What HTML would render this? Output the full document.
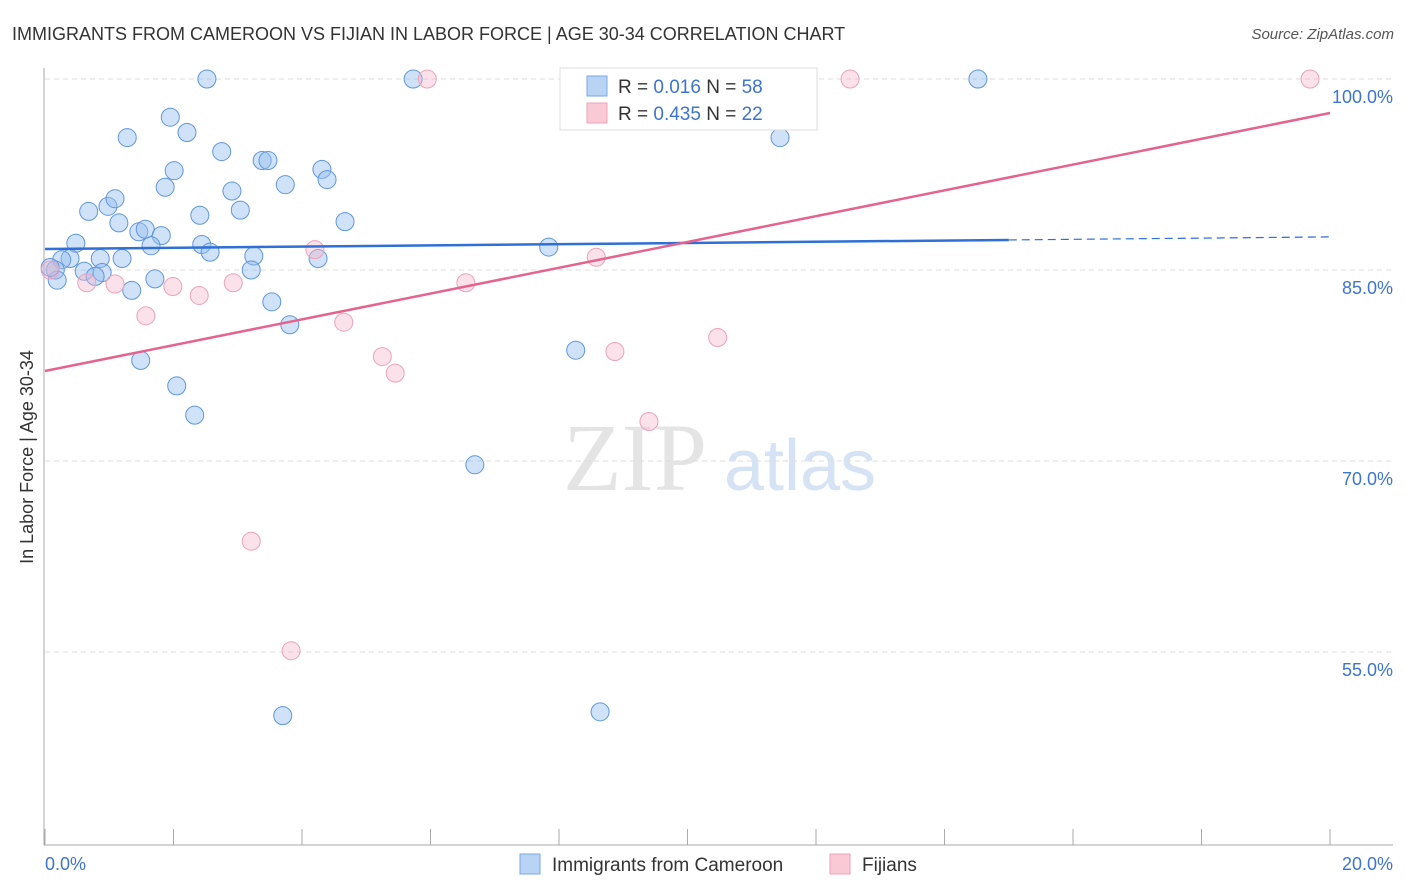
<!DOCTYPE html>
<html><head><meta charset="utf-8"><style>
body{margin:0;background:#fff;font-family:"Liberation Sans",sans-serif}
svg{display:block}
</style></head><body>
<svg id="chart" width="1406" height="892" xmlns="http://www.w3.org/2000/svg" font-family="Liberation Sans, sans-serif">
<text x="12" y="40" font-size="18" fill="#333">IMMIGRANTS FROM CAMEROON VS FIJIAN IN LABOR FORCE | AGE 30-34 CORRELATION CHART</text>
<text x="1394" y="39" font-size="15" fill="#555" text-anchor="end" font-style="italic">Source: ZipAtlas.com</text>
<text transform="translate(33,457) rotate(-90)" font-size="18" fill="#333" text-anchor="middle">In Labor Force | Age 30-34</text>
<g><text x="635" y="490" font-size="96" fill="#e4e4e4" text-anchor="middle" font-family="Liberation Serif, serif">ZIP</text><text x="800" y="490" font-size="72" fill="#d5e3f5" text-anchor="middle">atlas</text></g>
<g id="grid"></g>
<line x1="44" y1="68" x2="44" y2="845" stroke="#aaa"/>
<line x1="44" y1="845" x2="1393" y2="845" stroke="#aaa"/>
<g id="xt"></g>
<g id="pts"></g>
<g id="trend"></g>
<g>
<rect x="560" y="68" width="257" height="62" fill="#fff" stroke="#ddd"/>
<rect x="587" y="76" width="20" height="20" fill="#b8d3f4" stroke="#7aa8e6"/>
<rect x="587" y="103" width="20" height="20" fill="#f9c9d6" stroke="#eea3bb"/>
<text x="618" y="93" font-size="19" fill="#333">R = <tspan fill="#3d74d0">0.016</tspan>   N = <tspan fill="#3d74d0">58</tspan></text>
<text x="618" y="120" font-size="19" fill="#333">R = <tspan fill="#3d74d0">0.435</tspan>   N = <tspan fill="#3d74d0">22</tspan></text>
</g>
<g>
<rect x="520" y="854" width="20" height="20" fill="#b8d3f4" stroke="#7aa8e6"/>
<text x="552" y="871" font-size="19" fill="#333">Immigrants from Cameroon</text>
<rect x="830" y="854" width="20" height="20" fill="#f9c9d6" stroke="#eea3bb"/>
<text x="862" y="871" font-size="19" fill="#333">Fijians</text>
</g>
<text x="45" y="870" font-size="18" fill="#3d74d0">0.0%</text>
<text x="1393" y="870" font-size="18" fill="#3d74d0" text-anchor="end">20.0%</text>
</svg>
<script>
const yTicks=[100,85,70,55];
const xTickVals=[0,2,4,6,8,10,12,14,16,18,20];
const blueX=[2.52,5.73,8.95,14.52,1.28,1.95,2.21,2.75,2.01,1.87,2.91,3.38,3.47,3.74,4.31,4.39,3.04,2.41,0.68,0.98,1.09,1.15,1.46,1.56,1.81,0.48,1.65,2.44,2.57,4.67,7.84,3.25,4.25,1.20,0.86,0.39,0.26,0.16,0.19,0.61,0.89,0.78,3.21,1.71,1.35,3.53,3.81,1.49,2.05,2.33,8.26,6.69,3.70,8.64,11.44,0.08];
const blueY=[100,100,100,100,95.4,97.0,95.8,94.3,92.8,91.5,91.2,93.6,93.6,91.7,92.9,92.1,89.7,89.3,89.6,90.0,90.6,88.7,88.0,88.2,87.7,87.1,86.9,87.0,86.4,88.8,86.8,86.1,85.9,85.9,85.9,85.9,85.8,85.0,84.2,84.9,84.8,84.5,85.0,84.3,83.4,82.5,80.7,77.9,75.9,73.6,78.7,69.7,50.0,50.3,95.4,85.2];
const pinkX=[5.95,10.94,12.53,19.69,4.20,8.58,6.55,0.65,1.09,1.99,2.40,2.93,1.57,4.65,5.25,5.45,8.87,10.47,9.40,3.21,3.83,0.08];
const pinkY=[100,100,100,100,86.6,86.0,84.0,84.0,83.9,83.7,83.0,84.0,81.4,80.9,78.2,76.9,78.6,79.7,73.1,63.7,55.1,85.0];
const blueTrend=[86.65,87.36,87.6];
const pinkTrend=[77.07,97.33];
const NS="http://www.w3.org/2000/svg";
const X=v=>45+v*64.25, Y=v=>79+(100-v)*12.733;
function mk(t,a,p){const e=document.createElementNS(NS,t);for(const k in a)e.setAttribute(k,a[k]);p.appendChild(e);return e;}
const grid=document.getElementById('grid');
yTicks.forEach(t=>{
 const l=mk('line',{x1:45,x2:1393,y1:Y(t),y2:Y(t),stroke:'#ddd','stroke-dasharray':'5,4'},grid);
 
 
 const tx=mk('text',{x:1393,y:Y(t)+24,'font-size':18,fill:'#3d74d0','text-anchor':'end'},grid);
 tx.textContent=t.toFixed(1)+'%';
 
 
});
const xt=document.getElementById('xt');
xTickVals.forEach(v=>{
 const l=mk('line',{x1:X(v),x2:X(v),y1:829,y2:845,stroke:'#aaa'},xt);
 
 
});
const pts=document.getElementById('pts');
blueX.forEach((v,i)=>{
 const c=mk('circle',{cx:X(v),cy:Y(blueY[i]),r:9,fill:'rgba(150,190,238,0.45)',stroke:'#5f96e0','stroke-width':1},pts);
 
 
});
pinkX.forEach((v,i)=>{
 const c=mk('circle',{cx:X(v),cy:Y(pinkY[i]),r:9,fill:'rgba(246,180,200,0.4)',stroke:'#eca3ba','stroke-width':1},pts);
 
 
});
const tr=document.getElementById('trend');
let l1=mk('line',{x1:X(0),y1:Y(blueTrend[0]),x2:X(15),y2:Y(blueTrend[1]),stroke:'#2f6fd6','stroke-width':2.5},tr);


let l2=mk('line',{x1:X(15),y1:Y(blueTrend[1]),x2:X(20),y2:Y(blueTrend[2]),stroke:'#2f6fd6','stroke-width':1.2,'stroke-dasharray':'8,5'},tr);


let l3=mk('line',{x1:X(0),y1:Y(pinkTrend[0]),x2:X(20),y2:Y(pinkTrend[1]),stroke:'#e5648e','stroke-width':2.5},tr);


</script>
</body></html>
